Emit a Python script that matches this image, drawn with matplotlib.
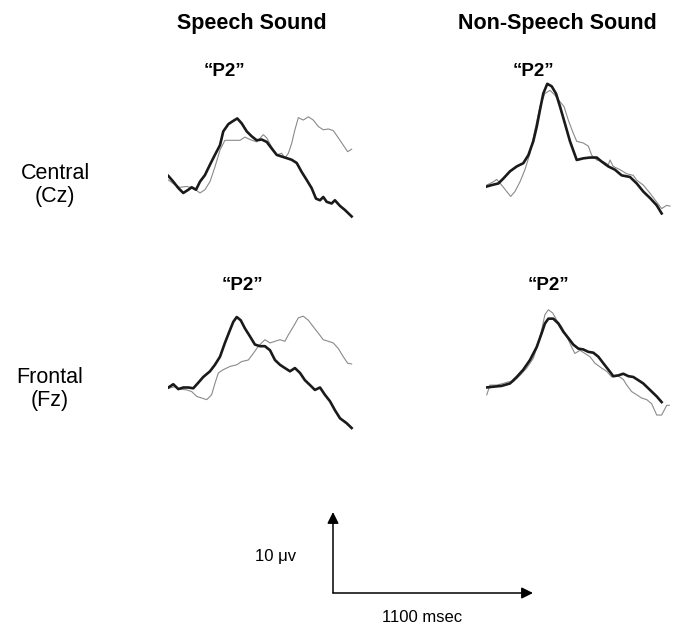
import numpy as np
import matplotlib
matplotlib.use('Agg')
import matplotlib.pyplot as plt

plt.rcParams['font.family'] = ['Liberation Sans', 'DejaVu Sans']

# ---- data: time (ms) / amplitude (uV) ----
# Speech sound, Cz
t_sp_cz_a = [2, 29, 57, 84, 112, 130, 154, 176, 203, 231, 258, 286, 304, 332, 359, 381, 405, 433, 460, 488,
             515, 543, 570, 598, 625, 653, 680, 708, 735, 763, 790, 814, 836, 854, 873, 900, 918, 946, 973, 1010]
v_sp_cz_a = [0.5, -0.2, -1.0, -1.6, -1.2, -0.9, -1.2, -0.2, 0.6, 1.9, 3.1, 4.3, 6.0, 6.9, 7.3, 7.6, 7.0, 6.0, 5.4, 4.9,
             5.0, 4.7, 3.9, 3.1, 2.9, 2.7, 2.5, 2.1, 1.0, 0.0, -1.0, -2.3, -2.5, -2.1, -2.7, -2.9, -2.5, -3.2, -3.7, -4.5]
t_sp_cz_b = [2, 38, 66, 103, 139, 176, 203, 231, 258, 286, 313, 350, 396, 423, 451, 488, 524, 543, 570, 598,
             625, 643, 662, 680, 698, 717, 744, 772, 799, 827, 854, 882, 909, 937, 964, 988, 1010]
v_sp_cz_b = [0, -0.6, -0.9, -0.8, -1.0, -1.6, -1.2, -0.2, 1.6, 3.7, 4.9, 4.9, 4.9, 5.3, 5.0, 4.7, 5.6, 5.2, 4.1, 3.1,
             3.3, 2.7, 3.3, 4.5, 6.2, 7.7, 7.4, 7.8, 7.4, 6.6, 6.2, 6.3, 6.1, 5.2, 4.3, 3.5, 3.8]

# Non-speech sound, Cz
t_ns_cz_a = [0, 31, 68, 95, 132, 169, 205, 233, 260, 279, 297, 315, 337, 361, 385, 407, 434, 462, 499, 535,
             572, 609, 636, 673, 709, 746, 792, 829, 865, 902, 939, 966]
v_ns_cz_a = [0, 0.2, 0.4, 1.0, 1.9, 2.5, 2.9, 3.9, 5.6, 7.4, 9.5, 11.5, 12.7, 12.4, 11.5, 9.9, 7.8, 5.6, 3.3, 3.5,
             3.6, 3.6, 3.1, 2.5, 2.1, 1.4, 1.2, 0.4, -0.6, -1.4, -2.3, -3.3]
t_ns_cz_b = [4, 40, 59, 86, 114, 136, 159, 187, 214, 242, 269, 297, 324, 352, 379, 403, 429, 453, 480, 499,
             535, 563, 581, 609, 645, 673, 682, 700, 737, 774, 810, 829, 865, 902, 939, 966, 994, 1012]
v_ns_cz_b = [0.2, 0.6, 0.9, 0.2, -0.6, -1.2, -0.6, 0.6, 2.1, 4.1, 7.0, 9.9, 11.5, 11.9, 11.3, 10.6, 9.9, 8.2, 6.6, 5.6,
             5.4, 5.0, 3.9, 3.3, 3.1, 2.7, 3.3, 2.5, 2.1, 1.6, 1.4, 0.8, 0.2, -0.8, -1.9, -2.7, -2.3, -2.4]

# Speech sound, Fz
t_sp_fz_a = [2, 29, 57, 84, 112, 139, 167, 194, 231, 258, 286, 313, 341, 359, 378, 400, 423, 451, 478, 506,
             533, 561, 588, 616, 643, 671, 698, 726, 753, 781, 808, 836, 863, 891, 918, 946, 982, 1010]
v_sp_fz_a = [0.1, 0.5, -0.1, 0.1, 0.1, 0, 0.7, 1.4, 2.1, 2.9, 3.9, 5.6, 7.2, 8.2, 8.8, 8.4, 7.4, 6.4, 5.4, 5.2,
             5.2, 4.7, 3.5, 2.9, 2.5, 2.1, 2.5, 1.9, 1.0, 0.4, -0.2, 0.1, -0.8, -1.6, -2.7, -3.7, -4.3, -4.9]
t_sp_fz_b = [2, 38, 66, 103, 130, 158, 185, 213, 240, 258, 277, 304, 341, 378, 405, 442, 469, 497, 515, 533,
             561, 588, 616, 643, 662, 689, 717, 744, 772, 799, 827, 854, 882, 909, 937, 964, 988, 1010]
v_sp_fz_b = [0, 0.2, -0.1, -0.2, -0.4, -1.0, -1.2, -1.4, -0.8, 0.6, 1.9, 2.3, 2.7, 2.9, 3.3, 3.5, 4.3, 5.2, 5.6, 6.0,
             5.6, 5.8, 6.0, 5.8, 6.6, 7.6, 8.7, 8.9, 8.4, 7.6, 6.8, 6.0, 5.8, 5.6, 4.9, 3.9, 3.1, 3.0]

# Non-speech sound, Fz
t_ns_fz_a = [0, 40, 86, 132, 169, 205, 242, 279, 306, 324, 343, 370, 398, 425, 453, 480, 508, 535, 563, 590,
             618, 645, 673, 700, 728, 755, 783, 810, 838, 865, 902, 939, 966]
v_ns_fz_a = [-0.1, 0, 0.1, 0.4, 1.2, 2.1, 3.3, 4.9, 6.6, 7.8, 8.4, 8.4, 7.8, 6.8, 6.0, 5.2, 4.7, 4.6, 4.3, 4.2,
             3.7, 2.9, 2.1, 1.3, 1.4, 1.6, 1.3, 1.2, 0.8, 0.4, -0.4, -1.2, -1.9]
t_ns_fz_b = [4, 22, 59, 95, 123, 150, 187, 224, 260, 288, 306, 324, 343, 367, 389, 416, 444, 471, 489, 517,
             544, 572, 599, 636, 664, 691, 728, 755, 774, 801, 829, 856, 884, 911, 939, 966, 994, 1008]
v_ns_fz_b = [-1.0, 0.2, 0.2, 0.4, 0.6, 0.6, 1.4, 2.3, 3.5, 5.4, 7.0, 8.9, 9.5, 9.1, 8.2, 7.4, 6.2, 4.9, 4.1, 4.5,
             4.1, 3.7, 2.9, 2.3, 1.9, 1.2, 1.3, 0.9, 0.2, -0.6, -1.0, -1.4, -1.6, -2.1, -3.5, -3.5, -2.3, -2.3]

col_titles = ['Speech Sound', 'Non-Speech Sound']
row_labels = ['Central\n(Cz)', 'Frontal\n(Fz)']
peak_label = '\u201cP2\u201d'
scale_uv = 10
scale_ms = 1100

# ---- layout (pixels of a 700x625 canvas) ----
W, H = 700, 625
MS_PER_PX = 5.5
PX_PER_UV = 8.1


def rect(x0_px, base_px, xlim, ylim):
    left_px = x0_px + xlim[0] / MS_PER_PX
    bottom_px = base_px - ylim[0] * PX_PER_UV
    w_px = (xlim[1] - xlim[0]) / MS_PER_PX
    h_px = (ylim[1] - ylim[0]) * PX_PER_UV
    return [left_px / W, 1 - bottom_px / H, w_px / W, h_px / H]


def fx(px):
    return px / W


def fy(py):
    return 1 - py / H


fig = plt.figure(figsize=(W / 100, H / 100), dpi=100)

XL = (0, 1030)
YL = (-8, 15)
panels = [
    (168, 180, t_sp_cz_a, v_sp_cz_a, t_sp_cz_b, v_sp_cz_b),
    (486, 186.7, t_ns_cz_a, v_ns_cz_a, t_ns_cz_b, v_ns_cz_b),
    (168, 388.3, t_sp_fz_a, v_sp_fz_a, t_sp_fz_b, v_sp_fz_b),
    (486, 386.7, t_ns_fz_a, v_ns_fz_a, t_ns_fz_b, v_ns_fz_b),
]
for x0, yb, ta, va, tb, vb in panels:
    ax = fig.add_axes(rect(x0, yb, XL, YL))
    ax.plot(tb, vb, color='#8a8a8a', lw=0.8)
    ax.plot(ta, va, color='#1a1a1a', lw=1.9)
    ax.set_xlim(XL)
    ax.set_ylim(YL)
    ax.axis('off')

# scale bar
axs = fig.add_axes(rect(333, 593, (-20, 1150), (-2, 12)))
axs.annotate('', xy=(scale_ms, 0), xytext=(0, 0),
             arrowprops=dict(arrowstyle='-|>', lw=1.1, color='black', mutation_scale=17, shrinkA=0, shrinkB=0))
axs.annotate('', xy=(0, scale_uv), xytext=(0, 0),
             arrowprops=dict(arrowstyle='-|>', lw=1.1, color='black', mutation_scale=17, shrinkA=0, shrinkB=0))
axs.set_xlim(-20, 1150)
axs.set_ylim(-2, 12)
axs.axis('off')

# text
fig.text(fx(252), fy(24), col_titles[0], ha='center', va='center', fontsize=15.5, fontweight='bold')
fig.text(fx(557), fy(24), col_titles[1], ha='center', va='center', fontsize=15.5, fontweight='bold')
for x, y in [(224, 72), (533, 72), (242, 285), (548, 285)]:
    fig.text(fx(x), fy(y), peak_label, ha='center', va='center', fontsize=13.5, fontweight='bold')
fig.text(fx(55), fy(185), row_labels[0], ha='center', va='center', fontsize=15.5, linespacing=1.15)
fig.text(fx(50), fy(389), row_labels[1], ha='center', va='center', fontsize=15.5, linespacing=1.15)
fig.text(fx(276), fy(557), '10 \u03bcv', ha='center', va='center', fontsize=12)
fig.text(fx(422), fy(618), '1100 msec', ha='center', va='center', fontsize=12)

plt.savefig('out.png', dpi=100)
